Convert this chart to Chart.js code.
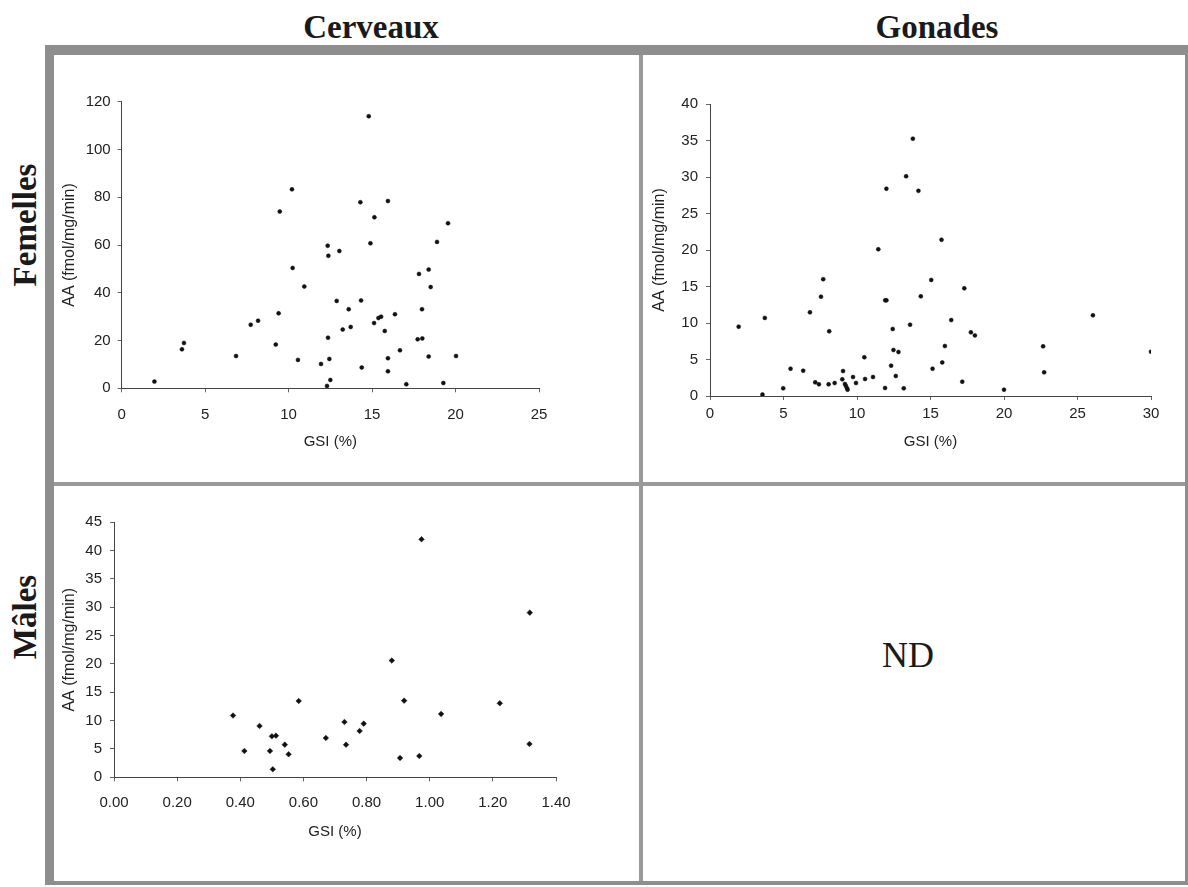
<!DOCTYPE html>
<html>
<head>
<meta charset="utf-8">
<script src="https://cdn.jsdelivr.net/npm/chart.js@4"></script>
<style>
    body { margin: 0; background: #fff; width: 1188px; height: 887px; position: relative; overflow: hidden; }
    .frame { position: absolute; left: 45px; top: 45px; width: 1143px; height: 840px; box-sizing: border-box;
             border-style: solid; border-color: #8e8e8e; border-width: 10px 3px 4px 9px; }
    .divv { position: absolute; left: 639px; top: 55px; width: 4px; height: 826px; background: #9a9a9a; }
    .divh { position: absolute; left: 54px; top: 482px; width: 1131px; height: 4px; background: #9a9a9a; }
    .head { position: absolute; font-family: "Liberation Serif", "DejaVu Serif", serif; font-weight: bold;
            font-size: 33px; color: #1a1a1a; line-height: 40px; white-space: nowrap; }
    .row { transform: translate(-50%, -50%) rotate(-90deg); }
    .nd { position: absolute; left: 908px; top: 655px; transform: translate(-50%, -50%);
          font-family: "Liberation Serif", serif; font-size: 36px; color: #1a1a1a; }
    canvas { position: absolute; }
</style>
</head>
<body>
<div class="frame"></div>
<div class="divv"></div>
<div class="divh"></div>
<div class="head" style="left:371px; top:7px; transform: translateX(-50%);">Cerveaux</div>
<div class="head" style="left:937px; top:7px; transform: translateX(-50%);">Gonades</div>
<div class="head row" style="left:25px; top:225px;">Femelles</div>
<div class="head row" style="left:25px; top:617px;">Mâles</div>
<div class="nd">ND</div>

<canvas id="brainF" width="586" height="427" style="left:53px; top:55px;"></canvas>
<canvas id="gonadF" width="542" height="427" style="left:643px; top:55px;"></canvas>
<canvas id="brainM" width="586" height="394" style="left:53px; top:486px;"></canvas>

<script>
// Cerveaux, femelles
var brainFemaleGsi = [1.96, 3.61, 3.73, 6.85, 7.73, 8.17, 9.23, 9.40, 9.47, 10.20, 10.24, 10.56, 10.94,
    11.94, 12.30, 12.34, 12.38, 12.36, 12.44, 12.50, 12.88, 13.04, 13.24, 13.60, 13.72, 14.30, 14.34,
    14.38, 14.80, 14.90, 15.14, 15.12, 15.38, 15.54, 15.76, 15.95, 15.95, 15.95, 16.37, 16.67, 17.05,
    17.73, 17.81, 18.01, 17.99, 18.39, 18.51, 18.39, 18.89, 19.27, 19.55, 20.03];
var brainFemaleAa = [2.8, 16.3, 19.0, 13.5, 26.6, 28.3, 18.3, 31.4, 74.0, 83.3, 50.4, 11.9, 42.6,
    10.2, 1.0, 59.7, 55.5, 21.2, 12.3, 3.5, 36.6, 57.5, 24.6, 33.1, 25.7, 77.9, 36.8,
    8.7, 113.9, 60.7, 71.6, 27.3, 29.4, 30.0, 24.0, 78.4, 12.6, 7.1, 31.0, 15.9, 1.7,
    20.5, 47.9, 20.9, 33.1, 49.7, 42.4, 13.3, 61.3, 2.2, 69.1, 13.5];

// Gonades, femelles
var gonadFemaleGsi = [1.95, 3.57, 3.73, 4.98, 5.48, 6.34, 6.80, 7.16, 7.41, 7.55, 7.70, 8.07, 8.11,
    8.48, 9.05, 9.00, 9.18, 9.25, 9.32, 9.36, 9.73, 9.93, 10.50, 10.55, 11.09, 11.45, 11.91,
    11.92, 12.00, 12.00, 12.32, 12.43, 12.48, 12.64, 12.82, 13.18, 13.34, 13.61, 13.80, 14.18,
    14.34, 15.05, 15.14, 15.75, 15.80, 15.98, 16.41, 17.16, 17.30, 17.75, 18.02, 20.00, 22.66,
    22.73, 26.05, 30.00];
var gonadFemaleAa = [9.5, 0.2, 10.7, 1.05, 3.74, 3.47, 11.46, 1.87, 1.6, 13.6, 16.0, 1.6, 8.86,
    1.78, 3.42, 2.28, 1.64, 1.37, 1.05, 0.87, 2.6, 1.78, 5.3, 2.33, 2.6, 20.1, 1.1,
    13.1, 13.1, 28.4, 4.16, 9.18, 6.3, 2.74, 6.03, 1.05, 30.1, 9.77, 35.25, 28.1,
    13.65, 15.9, 3.74, 21.4, 4.6, 6.85, 10.4, 1.96, 14.75, 8.72, 8.3, 0.87, 6.8,
    3.24, 11.05, 6.07];

// Cerveaux, mâles
var brainMaleGsi = [0.377, 0.413, 0.461, 0.494, 0.500, 0.513, 0.503, 0.541, 0.553, 0.585, 0.671, 0.730,
    0.735, 0.778, 0.791, 0.880, 0.906, 0.919, 0.967, 0.974, 1.036, 1.222, 1.317, 1.316];
var brainMaleAa = [10.9, 4.65, 9.06, 4.65, 7.24, 7.35, 1.41, 5.76, 4.06, 13.47, 6.94, 9.76,
    5.76, 8.18, 9.47, 20.6, 3.41, 13.53, 3.76, 42.0, 11.18, 13.06, 29.06, 5.88];

var xTitle = "GSI (%)";
var yTitle = "AA (fmol/mg/min)";

var textColor = "#222";
var fontFamily = "'Liberation Sans', Arial, sans-serif";

function makePoints(xs, ys) {
    var pts = [];
    for (var i = 0; i < xs.length; i++) {
        pts.push({ x: xs[i], y: ys[i] });
    }
    return pts;
}

// p: placement of the plot area inside its canvas
function makeScatter(id, xs, ys, p) {
    new Chart(document.getElementById(id), {
        type: "scatter",
        data: {
            datasets: [{
                data: makePoints(xs, ys),
                pointStyle: p.pointStyle,
                pointRadius: p.pointRadius,
                backgroundColor: "#111",
                borderColor: "#111",
                borderWidth: 0.5
            }]
        },
        options: {
            responsive: false,
            animation: false,
            events: [],
            layout: { padding: { left: 0, top: p.top, right: p.right, bottom: 0 } },
            plugins: { legend: { display: false }, tooltip: { enabled: false } },
            scales: {
                x: {
                    type: "linear",
                    min: p.xMin, max: p.xMax,
                    afterFit: function(scale) { scale.height = p.xHeight; },
                    border: { display: true, color: "#444", width: 1 },
                    grid: { drawOnChartArea: false, drawTicks: true, tickLength: 4, color: "#666" },
                    ticks: {
                        stepSize: p.xStep,
                        maxRotation: 0,
                        padding: p.xPad,
                        color: textColor,
                        font: { family: fontFamily, size: 15 },
                        callback: function(v) { return p.xDecimals ? v.toFixed(p.xDecimals) : v; }
                    },
                    title: {
                        display: true,
                        text: xTitle,
                        color: textColor,
                        font: { family: fontFamily, size: 15 },
                        padding: { top: 0, bottom: p.xTitlePad }
                    }
                },
                y: {
                    min: 0, max: p.yMax,
                    afterFit: function(scale) { scale.width = p.yWidth; },
                    border: { display: true, color: "#444", width: 1 },
                    grid: { drawOnChartArea: false, drawTicks: true, tickLength: 4, color: "#666" },
                    ticks: {
                        stepSize: p.yStep,
                        padding: p.yPad,
                        color: textColor,
                        font: { family: fontFamily, size: 15 }
                    },
                    title: {
                        display: true,
                        text: yTitle,
                        color: textColor,
                        font: { family: fontFamily, size: 16 },
                        padding: { top: p.yTitlePad, bottom: 0 }
                    }
                }
            }
        }
    });
}

makeScatter("brainF", brainFemaleGsi, brainFemaleAa, {
    top: 46.7, right: 100, yWidth: 68.7, xHeight: 93.7,
    xMin: 0, xMax: 25, xStep: 5, xDecimals: 0, yMax: 120, yStep: 20,
    xPad: 14, yPad: 7, xTitlePad: 31, yTitlePad: 7.4,
    pointStyle: "circle", pointRadius: 2
});

makeScatter("gonadF", gonadFemaleGsi, gonadFemaleAa, {
    top: 49, right: 34, yWidth: 67, xHeight: 86,
    xMin: 0, xMax: 30, xStep: 5, xDecimals: 0, yMax: 40, yStep: 5,
    xPad: 5, yPad: 8, xTitlePad: 31, yTitlePad: 7.4,
    pointStyle: "circle", pointRadius: 2
});

makeScatter("brainM", brainMaleGsi, brainMaleAa, {
    top: 36.3, right: 83, yWidth: 61, xHeight: 102.7,
    xMin: 0, xMax: 1.4, xStep: 0.2, xDecimals: 2, yMax: 45, yStep: 5,
    xPad: 13, yPad: 8, xTitlePad: 39, yTitlePad: 7.4,
    pointStyle: "rectRot", pointRadius: 2.8
});
</script>
</body>
</html>
